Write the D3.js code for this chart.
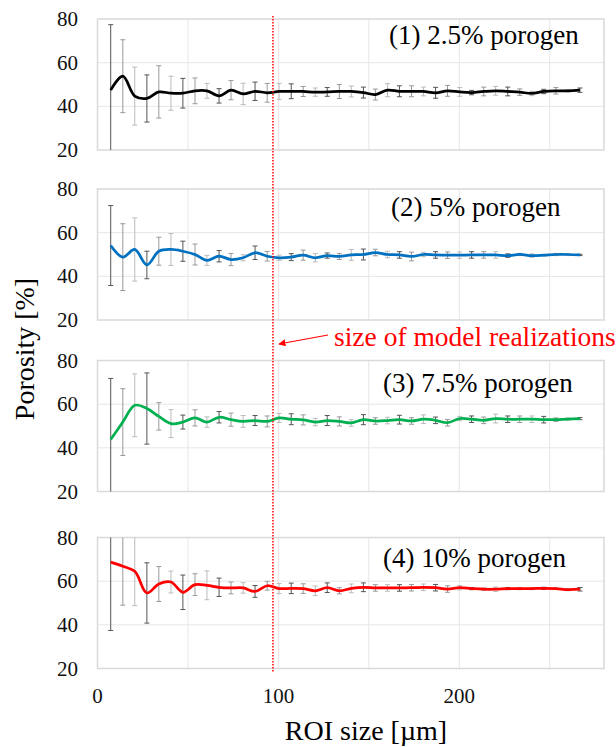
<!DOCTYPE html>
<html>
<head>
<meta charset="utf-8">
<script src="https://cdn.jsdelivr.net/npm/d3@7"></script>
<style>
  body { margin: 0; background: #fff; }
  svg { display: block; font-family: 'Liberation Serif', 'Times New Roman', serif; }
</style>
</head>
<body>
<svg id="chart" width="616" height="747"></svg>
<script>
const d3 = window.d3

// ROI sizes [um]
const roiSize = [7.3, 14.0, 20.6, 27.3, 33.9, 40.6, 47.2, 53.9, 60.5, 67.2,
  73.8, 80.5, 87.1, 93.8, 100.4, 107.1, 113.7, 120.4, 127.0, 133.7,
  140.3, 147.0, 153.6, 160.3, 166.9, 173.6, 180.2, 186.9, 193.5, 200.2,
  206.8, 213.5, 220.1, 226.8, 233.4, 240.1, 246.7, 253.4, 260.0, 266.7]

const mean1 = [47.4, 53.8, 44.7, 43.6, 46.6, 46.0, 46.0, 47.1, 47.1, 44.8,
  47.4, 45.7, 46.9, 46.2, 46.8, 46.9, 46.8, 46.5, 46.6, 46.8,
  46.8, 46.3, 45.4, 47.4, 46.9, 46.9, 46.8, 46.2, 47.1, 46.6,
  46.3, 46.8, 47.1, 46.8, 46.5, 45.9, 46.8, 47.1, 47.1, 47.4]
const err1 = [30, 16.7, 13.3, 10.8, 12, 7.8, 6.8, 5.9, 3.4, 3.3,
  4.4, 4.9, 4.2, 4.3, 3.7, 3.4, 2.3, 1.9, 2.0, 3.2,
  2.5, 2.5, 2.5, 3.0, 2.5, 2.5, 2.0, 2.5, 2.5, 2.0,
  1.0, 2.0, 2.0, 2.0, 1.5, 1.0, 1.0, 1.5, 0.5, 1.0]

const mean2 = [54.1, 48.8, 52.3, 45.2, 51.5, 52.3, 51.5, 50.0, 47.3, 49.2,
  47.7, 48.5, 50.8, 49.2, 48.5, 48.8, 49.7, 48.5, 49.5, 49.1,
  49.8, 50.0, 50.9, 50.0, 49.8, 49.1, 50.0, 49.8, 49.7, 49.7,
  49.8, 49.8, 49.8, 49.5, 50.0, 49.5, 49.7, 50.0, 50.0, 49.8]
const err2 = [18.3, 15.3, 14.5, 6.3, 6.4, 7.3, 4.6, 4.8, 2.3, 2.6,
  2.8, 1.4, 3.1, 2.2, 1.2, 1.6, 2.3, 1.9, 1.2, 1.4,
  2.5, 2.5, 1.5, 1.5, 1.5, 2.0, 1.0, 1.5, 1.5, 1.5,
  1.5, 1.5, 1.5, 0.8, 0.5, 0.8, 0.3, 0.5, 0.5, 0.3]

const mean3 = [43.8, 51.8, 59.5, 58.0, 54.4, 51.1, 51.8, 53.7, 51.8, 54.0,
  52.9, 52.1, 52.5, 52.1, 53.7, 53.1, 52.8, 51.8, 52.5, 52.1,
  51.4, 52.9, 52.3, 52.5, 52.9, 52.3, 53.1, 52.6, 51.5, 53.4,
  53.1, 52.6, 53.4, 53.1, 53.1, 53.1, 52.9, 52.9, 53.2, 53.4]
const err3 = [28, 15.3, 14.4, 16.3, 6.3, 6.4, 3.2, 3.7, 2.4, 2.6,
  3.0, 2.7, 2.3, 2.5, 2.1, 2.5, 2.3, 1.7, 2.3, 2.1,
  1.5, 2.3, 1.5, 1.5, 2.0, 1.5, 2.0, 1.5, 1.5, 1.0,
  1.5, 1.5, 2.0, 1.5, 1.5, 1.5, 1.5, 0.8, 0.5, 0.5]

const mean4 = [68.7, 66.8, 64.5, 54.6, 58.7, 59.6, 54.9, 58.4, 58.1, 57.2,
  56.9, 56.9, 55.3, 57.9, 56.6, 56.7, 56.6, 55.6, 57.0, 55.6,
  56.7, 57.2, 56.9, 56.9, 56.9, 57.0, 57.2, 57.0, 56.4, 57.0,
  56.6, 56.3, 56.3, 56.6, 56.6, 56.6, 56.7, 56.6, 56.1, 56.3]
const err4 = [31.3, 17.8, 15.7, 13.8, 8.0, 5.0, 7.9, 5.0, 6.6, 4.2,
  2.7, 2.4, 2.7, 2.0, 2.3, 2.4, 2.2, 2.2, 2.2, 1.4,
  2.0, 2.0, 1.5, 1.5, 1.5, 1.5, 1.5, 1.5, 1.5, 1.0,
  0.5, 0.5, 1.0, 0.5, 0.5, 0.5, 0.5, 0.3, 0.5, 0.8]

const panelLabels = ['(1) 2.5% porogen', '(2) 5% porogen', '(3) 7.5% porogen', '(4) 10% porogen']
const yTicks = [20, 40, 60, 80]
const xTicks = [0, 100, 200]
const xGridLines = [50, 100, 150, 200, 250]
const modelSize = 97

const series = [
  {mean: mean1, err: err1, color: '#000000'},
  {mean: mean2, err: err2, color: '#0070c0'},
  {mean: mean3, err: err3, color: '#00b050'},
  {mean: mean4, err: err4, color: '#ff0000'}
]

// layout
const left = 97.5
const right = 604
const panelH = 131
const panelTop = [19, 189, 360.5, 537.5]
const labelPos = [[389, 44], [391, 216], [383, 391.5], [383, 566.5]]

const svg = d3.select('#chart')

const x = d3.scaleLinear().domain([0, 280]).range([left, right])

series.forEach(function (s, p) {
  const top = panelTop[p]
  const y = d3.scaleLinear().domain([20, 80]).range([top + panelH, top]).clamp(true)
  const g = svg.append('g')

  // grid
  g.selectAll('.hgrid').data(yTicks.slice(1, 3)).enter().append('line')
    .attr('x1', left).attr('x2', right)
    .attr('y1', d => y(d)).attr('y2', d => y(d))
    .attr('stroke', '#e6e6e6').attr('stroke-width', 1)
  g.selectAll('.vgrid').data(xGridLines).enter().append('line')
    .attr('x1', d => x(d)).attr('x2', d => x(d))
    .attr('y1', top).attr('y2', top + panelH)
    .attr('stroke', '#e6e6e6').attr('stroke-width', 1)

  g.append('rect')
    .attr('x', left).attr('y', top)
    .attr('width', right - left).attr('height', panelH)
    .attr('fill', 'none').attr('stroke', '#d9d9d9').attr('stroke-width', 1.5)

  // y tick labels
  g.selectAll('.ytick').data(yTicks).enter().append('text')
    .attr('x', 78).attr('y', d => y(d)).attr('dy', '0.34em')
    .attr('text-anchor', 'end').attr('font-size', 21).attr('fill', '#111')
    .text(d => d)

  // error bars
  const pts = roiSize.map((r, i) => ({r: r, m: s.mean[i], e: s.err[i], i: i}))
  const bars = g.append('g').selectAll('g').data(pts).enter().append('g')
    .attr('stroke', d => ['#555', '#999', '#bbb'][d.i % 3]).attr('stroke-width', 1)
  bars.append('line')
    .attr('x1', d => x(d.r)).attr('x2', d => x(d.r))
    .attr('y1', d => y(d.m + d.e)).attr('y2', d => y(d.m - d.e))
  bars.filter(d => d.m + d.e <= 80).append('line')
    .attr('x1', d => x(d.r) - 2.5).attr('x2', d => x(d.r) + 2.5)
    .attr('y1', d => y(d.m + d.e)).attr('y2', d => y(d.m + d.e))
  bars.filter(d => d.m - d.e >= 20).append('line')
    .attr('x1', d => x(d.r) - 2.5).attr('x2', d => x(d.r) + 2.5)
    .attr('y1', d => y(d.m - d.e)).attr('y2', d => y(d.m - d.e))

  // mean line
  const line = d3.line()
    .x(d => x(d.r)).y(d => y(d.m))
    .curve(d3.curveCatmullRom.alpha(0.5))
  g.append('path').datum(pts)
    .attr('d', line)
    .attr('fill', 'none').attr('stroke', s.color).attr('stroke-width', 2.75)

  g.append('text')
    .attr('x', labelPos[p][0]).attr('y', labelPos[p][1])
    .attr('font-size', 27).attr('fill', '#000')
    .text(panelLabels[p])
})

// x tick labels
svg.selectAll('.xtick').data(xTicks).enter().append('text')
  .attr('x', d => x(d)).attr('y', 703)
  .attr('text-anchor', 'middle').attr('font-size', 21).attr('fill', '#111')
  .text(d => d)

// axis titles
svg.append('text')
  .attr('x', 366).attr('y', 740)
  .attr('text-anchor', 'middle').attr('font-size', 28)
  .text('ROI size [\u00b5m]')
svg.append('text')
  .attr('transform', 'translate(34, 349) rotate(-90)')
  .attr('text-anchor', 'middle').attr('font-size', 28)
  .text('Porosity [%]')

// model realization size marker
svg.append('line')
  .attr('x1', x(modelSize)).attr('x2', x(modelSize))
  .attr('y1', 16).attr('y2', 672)
  .attr('stroke', '#ff0000').attr('stroke-width', 1.5)
  .attr('stroke-dasharray', '1.5,1.5')

svg.append('defs').append('marker')
  .attr('id', 'arrow').attr('viewBox', '0 0 10 10')
  .attr('refX', 9).attr('refY', 5)
  .attr('markerWidth', 6).attr('markerHeight', 6)
  .attr('orient', 'auto-start-reverse')
  .append('path').attr('d', 'M0,0 L10,5 L0,10 Z').attr('fill', '#ff0000')

svg.append('line')
  .attr('x1', 328).attr('y1', 335).attr('x2', x(modelSize) + 6).attr('y2', 344)
  .attr('stroke', '#ff0000').attr('stroke-width', 1.2)
  .attr('marker-end', 'url(#arrow)')

svg.append('text')
  .attr('x', 334).attr('y', 346)
  .attr('font-size', 27.5).attr('fill', '#ff0000')
  .text('size of model realizations')
</script>
</body>
</html>
